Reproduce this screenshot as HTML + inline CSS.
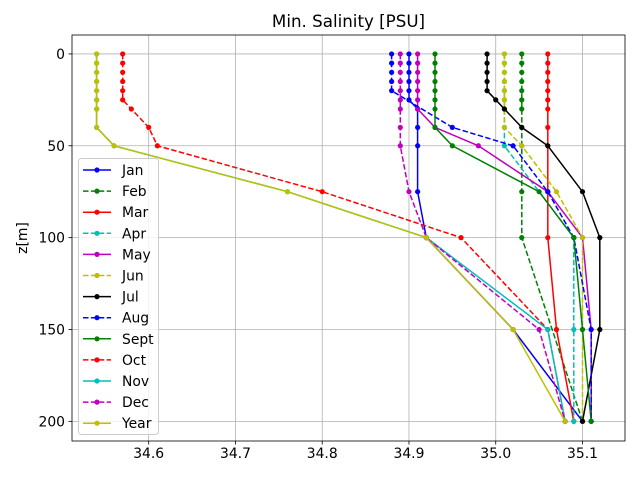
<!DOCTYPE html>
<html><head><meta charset="utf-8"><style>
body{margin:0;background:#fff}
svg{font-family:"DejaVu Sans","Liberation Sans",sans-serif}
</style></head><body>
<svg id="chart" width="640" height="480" viewBox="0 0 640 480" xmlns="http://www.w3.org/2000/svg"></svg>
<script>
const xTicks=[34.6,34.7,34.8,34.9,35.0,35.1];
const yTicks=[0,50,100,150,200];
const depthsStd=[0,5,10,15,20,25,30,40,50,75,100,150,200];
const depthsFeb=[0,5,10,15,20,25,30,40,50,75,100,200];
const depthsShallow=[0,5,10,15,20,40,50,75,100,150,200];
const depthsApr=[0,5,10,15,20,25,30,40,50,100,150,200];
const names=["Jan","Feb","Mar","Apr","May","Jun","Jul","Aug","Sept","Oct","Nov","Dec","Year"];
const colors=["#0000ff","#008000","#ff0000","#00bfbf","#bf00bf","#bfbf00","#000000","#0000ff","#008000","#ff0000","#00bfbf","#bf00bf","#bfbf00"];
const dashed=[false,true,false,true,false,true,false,true,false,true,false,true,false];
const jan=[34.90,34.90,34.90,34.90,34.90,34.90,34.91,34.91,34.91,34.91,34.92,35.02,35.10];
const feb=[35.03,35.03,35.03,35.03,35.03,35.03,35.03,35.03,35.03,35.03,35.03,35.10];
const mar=[35.06,35.06,35.06,35.06,35.06,35.06,35.06,35.06,35.06,35.06,35.06,35.07,35.09];
const apr=[35.01,35.01,35.01,35.01,35.01,35.01,35.01,35.01,35.01,35.09,35.09,35.09];
const may=[34.91,34.91,34.91,34.91,34.91,34.91,34.91,34.93,34.98,35.06,35.10,35.11,35.11];
const jun=[35.01,35.01,35.01,35.01,35.01,35.01,35.01,35.01,35.03,35.07,35.10,35.10,35.10];
const jul=[34.99,34.99,34.99,34.99,34.99,35.00,35.01,35.03,35.06,35.10,35.12,35.12,35.10];
const aug=[34.88,34.88,34.88,34.88,34.88,34.95,35.02,35.06,35.09,35.11,35.11];
const sep=[34.93,34.93,34.93,34.93,34.93,34.93,34.93,34.93,34.95,35.05,35.09,35.10,35.11];
const oct=[34.57,34.57,34.57,34.57,34.57,34.57,34.58,34.60,34.61,34.80,34.96,35.06,35.08];
const nov=[34.54,34.54,34.54,34.54,34.54,34.54,34.54,34.54,34.56,34.76,34.92,35.06,35.08];
const dec=[34.89,34.89,34.89,34.89,34.89,34.89,34.89,34.89,34.89,34.90,34.92,35.05,35.08];
const year=[34.54,34.54,34.54,34.54,34.54,34.54,34.54,34.54,34.56,34.76,34.92,35.02,35.08];
const seriesVals=[jan,feb,mar,apr,may,jun,jul,aug,sep,oct,nov,dec,year];
const seriesDepths=[depthsStd,depthsFeb,depthsStd,depthsApr,depthsStd,depthsStd,depthsStd,depthsShallow,depthsStd,depthsStd,depthsStd,depthsStd,depthsStd];

const L=72,R=625,T=35,B=441;
const xMin=34.5116,xMax=35.149,yMin=-10.3,yMax=210.7;
const X=v=>L+(v-xMin)/(xMax-xMin)*(R-L);
const Y=d=>T+(d-yMin)/(yMax-yMin)*(B-T);
const svg=document.getElementById('chart');
const NS="http://www.w3.org/2000/svg";
function mk(tag,attrs,parent){const e=document.createElementNS(NS,tag);for(const k in attrs)e.setAttribute(k,attrs[k]);(parent||svg).appendChild(e);return e;}

// grid
const grid=mk('g',{});


xTicks.forEach(t=>{mk('line',{x1:X(t),x2:X(t),y1:T,y2:B,stroke:'#b0b0b0','stroke-width':0.8},grid);});
yTicks.forEach(t=>{mk('line',{x1:L,x2:R,y1:Y(t),y2:Y(t),stroke:'#b0b0b0','stroke-width':0.8},grid);});

// series
seriesVals.forEach((vals,i)=>{
  const g=mk('g',{});
  
  
  const ds=seriesDepths[i];
  const pts=vals.map((v,j)=>X(v).toFixed(1)+','+Y(ds[j]).toFixed(1)).join(' ');
  const pl=mk('polyline',{points:pts,fill:'none',stroke:colors[i],'stroke-width':1.5});
  g.appendChild(pl);
  if(dashed[i])pl.setAttribute('stroke-dasharray','5.5,2.4');
  vals.forEach((v,j)=>{
    const c=mk('circle',{cx:X(v),cy:Y(ds[j]),r:2.6,fill:colors[i]},g);
    
    
  });
});

// axes frame
const frame=mk('rect',{x:L,y:T,width:R-L,height:B-T,fill:'none',stroke:'#000','stroke-width':0.8});



// ticks
xTicks.forEach(t=>{
  mk('line',{x1:X(t),x2:X(t),y1:B,y2:B+3.5,stroke:'#000','stroke-width':0.8});
  const tx=mk('text',{x:X(t),y:B+17,'font-size':'13.9','text-anchor':'middle',fill:'#000'});
  tx.textContent=t.toFixed(1);
  
  
});
yTicks.forEach(t=>{
  mk('line',{x1:L-3.5,x2:L,y1:Y(t),y2:Y(t),stroke:'#000','stroke-width':0.8});
  const tx=mk('text',{x:L-7,y:Y(t)+5,'font-size':'13.9','text-anchor':'end',fill:'#000'});
  tx.textContent=String(t);
  
  
});

const title=mk('text',{x:(L+R)/2,y:27,'font-size':'16.7','text-anchor':'middle',fill:'#000'});
title.textContent='Min. Salinity [PSU]';


const yl=mk('text',{x:0,y:0,'font-size':'13.9','text-anchor':'middle',fill:'#000',transform:'translate(27,238) rotate(-90)'});
yl.textContent='z[m]';



// legend
const lg=mk('g',{});


mk('rect',{x:78.5,y:158.5,width:80,height:276,rx:3,fill:'#fff','fill-opacity':0.8,stroke:'#cccccc','stroke-width':1},lg);
names.forEach((n,i)=>{
  const yy=170+i*21.1;
  const e=mk('g',{},lg);
  
  
  const ln=mk('line',{x1:83,x2:111,y1:yy,y2:yy,stroke:colors[i],'stroke-width':1.5},e);
  if(dashed[i])ln.setAttribute('stroke-dasharray','5.5,2.4');
  mk('circle',{cx:97,cy:yy,r:2.6,fill:colors[i]},e);
  const t=mk('text',{x:122,y:yy+5,'font-size':'13.9',fill:'#000'},e);
  t.textContent=n;
});
</script>
</body></html>
